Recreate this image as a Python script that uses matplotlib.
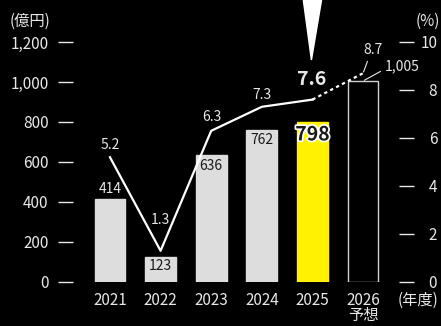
import matplotlib
matplotlib.use("Agg")
from matplotlib import pyplot as plt
from matplotlib import patheffects
from matplotlib.patches import Polygon
from matplotlib.transforms import blended_transform_factory

# Data
years = ["2021", "2022", "2023", "2024", "2025", "2026\n予想"]
sales = [414, 123, 636, 762, 798, 1005]          # 億円
margin = [5.2, 1.3, 6.3, 7.3, 7.6, 8.7]          # %
left_ticks = [0, 200, 400, 600, 800, 1000, 1200]
right_ticks = [0, 2, 4, 6, 8, 10]

GREY = "#dcdddc"
YELLOW = "#fff100"
TXT = "#e8e8e8"
DARK = "#1a1a1a"

plt.rcParams["font.family"] = ["Noto Sans CJK JP", "DejaVu Sans"]

fig = plt.figure(figsize=(4.41, 3.26), dpi=100, facecolor="black")
ax = fig.add_axes([73 / 441, 1 - 282 / 326, 326 / 441, 240 / 326])
ax.set_facecolor("black")
ax2 = ax.twinx()

x = list(range(len(years)))
colors = [GREY, GREY, GREY, GREY, YELLOW, "black"]
edges = [GREY, GREY, GREY, GREY, YELLOW, "#cfcfcf"]
ax.bar(x, sales, width=0.61, color=colors, edgecolor=edges, linewidth=1.0, zorder=2)

ax.set_xlim(-0.73, 5.71)
ax.set_ylim(0, 1200)
ax2.set_ylim(0, 10)

# ticks: short dashes away from the plot area
ax.set_yticks(left_ticks)
ax.set_yticklabels(["{:,}".format(v) for v in left_ticks])
ax.tick_params(axis="y", length=11, width=1.0, color=TXT, pad=6.5, labelsize=11, labelcolor=TXT)
ax2.set_yticks(right_ticks)
ax2.tick_params(axis="y", length=11, width=1.0, color=TXT, pad=16.5, labelsize=11, labelcolor=TXT)
for lab in ax2.get_yticklabels():
    lab.set_horizontalalignment("right")
ax.set_xticks(x)
ax.set_xticklabels(years, linespacing=0.85)
ax.tick_params(axis="x", length=0, pad=7.5, labelsize=11, labelcolor=TXT)
for a in (ax, ax2):
    for s in a.spines.values():
        s.set_visible(False)

# bar value labels
for i, v in enumerate(sales):
    if i == 0:
        ax.annotate(str(v), (i, v), xytext=(0, 7.5), textcoords="offset points",
                    ha="center", va="center", fontsize=10, color=TXT)
    elif i in (1, 2, 3):
        off = -6.5 if i == 1 else -7.8
        ax.annotate(str(v), (i, v), xytext=(0, off), textcoords="offset points",
                    ha="center", va="center", fontsize=10, color=DARK, zorder=3)
    elif i == 4:
        t = ax.annotate(str(v), (i, v), xytext=(0, -9), textcoords="offset points",
                        ha="center", va="center", fontsize=14, fontweight="bold",
                        color=DARK, zorder=3)
        t.set_path_effects([patheffects.withStroke(linewidth=2.5, foreground="white")])
    else:
        ax.annotate("{:,}".format(v), (i, v), xytext=(28, 10.5), textcoords="offset points",
                    ha="center", va="center", fontsize=10, color=TXT,
                    arrowprops=dict(arrowstyle="-", color=TXT, lw=0.8, shrinkA=1, shrinkB=1,
                                    relpos=(0.0, 0.3)))

# operating margin line
ax2.plot(x[:5], margin[:5], color="white", lw=1.6, zorder=4)
ax2.plot(x[4:], margin[4:], color="white", lw=1.6, ls=(0, (1.5, 1.5)), zorder=4)

offs = [(0, 8.6), (0, 22), (0.5, 10), (0, 8.6), (-0.5, 14.5)]
for i in range(5):
    bold = i == 4
    ax2.annotate(str(margin[i]), (i, margin[i]), xytext=offs[i], textcoords="offset points",
                 ha="center", va="center", fontsize=14 if bold else 10,
                 fontweight="bold" if bold else "normal", color=TXT, zorder=5)
ax2.annotate(str(margin[5]), (5, margin[5]), xytext=(7, 16.5), textcoords="offset points",
             ha="center", va="center", fontsize=10, color=TXT,
             arrowprops=dict(arrowstyle="-", color=TXT, lw=0.8, shrinkA=1, shrinkB=1,
                             relpos=(0.3, 0.0)))

# pointer triangle above 2025
tr = blended_transform_factory(ax.transData, fig.transFigure)
fig.patches.append(Polygon([(3.82, 1.0), (4.18, 1.0), (3.98, 1 - 60 / 326)],
                           closed=True, color="white", transform=tr, figure=fig))

# unit labels
fig.text(30 / 441, 1 - 21 / 326, "(億円)", ha="center", va="center", fontsize=11, color=TXT)
fig.text(428 / 441, 1 - 21 / 326, "(%)", ha="center", va="center", fontsize=11, color=TXT)
fig.text(418 / 441, 1 - 300 / 326, "(年度)", ha="center", va="center", fontsize=11, color=TXT)

fig.savefig("out.png", dpi=100, facecolor="black")
